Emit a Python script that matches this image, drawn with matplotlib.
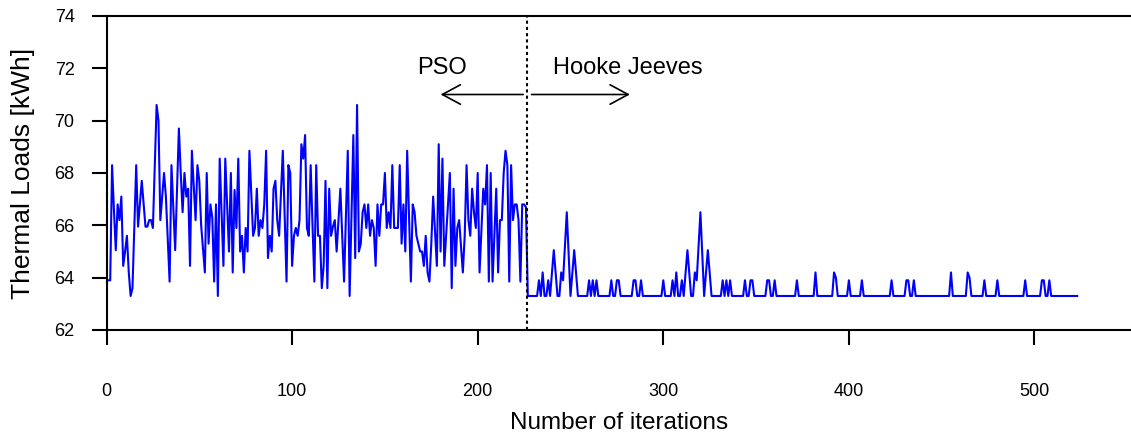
import matplotlib
matplotlib.use('Agg')
import matplotlib.pyplot as plt

plt.rcParams['font.family'] = ['Liberation Sans', 'DejaVu Sans']

# PSO phase: thermal load per iteration, iterations 0..226
pso_loads = [
    63.9, 63.9, 63.9, 68.3, 66.6, 65.05, 66.8, 66.2, 67.1, 64.45,
    65.0, 65.6, 64.2, 63.3, 63.6, 65.9, 68.3, 65.95, 66.8, 67.7,
    66.8, 65.95, 65.95, 66.2, 66.2, 65.9, 68.3, 70.6, 70.0, 66.2,
    67.1, 68.0, 67.1, 65.5, 63.85, 68.3, 66.7, 65.05, 67.4, 69.7,
    68.0, 66.5, 68.0, 67.1, 67.4, 64.45, 68.85, 67.5, 66.2, 68.3,
    67.7, 66.0, 65.1, 64.2, 68.0, 65.3, 66.8, 66.3, 63.85, 66.8,
    63.3, 68.55, 66.5, 64.45, 68.55, 66.8, 65.0, 68.0, 64.2, 67.35,
    65.9, 68.55, 65.0, 65.6, 64.2, 65.9, 65.0, 68.85, 67.2, 65.6,
    65.9, 67.4, 65.6, 66.2, 65.9, 66.8, 68.85, 64.75, 65.6, 65.0,
    67.4, 67.7, 66.2, 65.6, 67.2, 68.85, 66.4, 63.85, 68.3, 68.0,
    64.45, 65.6, 65.9, 65.6, 66.2, 69.1, 68.55, 69.45, 65.9, 65.6,
    68.3, 66.0, 63.85, 68.3, 65.6, 65.6, 63.6, 64.45, 67.7, 63.6,
    67.4, 65.6, 65.95, 66.2, 65.0, 66.2, 67.4, 65.6, 63.85, 66.3,
    68.85, 63.3, 66.4, 69.45, 64.75, 70.6, 65.0, 65.3, 66.5, 66.8,
    65.9, 66.8, 65.6, 66.2, 65.9, 64.45, 66.8, 65.6, 66.8, 66.8,
    68.0, 65.9, 66.5, 65.9, 68.3, 65.9, 65.9, 65.9, 68.3, 65.3,
    66.8, 65.0, 68.85, 66.4, 63.85, 66.8, 66.5, 65.6, 65.3, 65.0,
    65.0, 64.45, 65.6, 64.2, 63.85, 65.3, 67.1, 65.8, 64.45, 69.1,
    65.0, 68.55, 64.45, 65.6, 66.8, 68.0, 63.6, 67.4, 64.45, 65.9,
    66.2, 65.2, 64.2, 65.6, 68.3, 66.2, 65.6, 67.4, 66.5, 65.9,
    68.0, 64.2, 65.8, 67.4, 66.8, 68.3, 63.85, 68.0, 63.85, 65.6,
    67.4, 64.2, 66.2, 66.2, 68.0, 68.85, 68.3, 63.85, 68.3, 66.2,
    66.8, 66.8, 66.2, 63.85, 66.8, 66.8, 66.7,
]

# Hooke Jeeves phase: iterations 227..523, flat at the best value except where noted
hj_first, hj_last = 227, 523
hj_base = 63.3
hj_peaks = {
    233: 63.9, 235: 64.2, 238: 63.9, 240: 64.2, 241: 65.05, 242: 64.2,
    245: 64.2, 246: 63.9, 247: 65.2, 248: 66.5, 249: 64.9, 251: 64.2,
    252: 65.05, 253: 64.2, 260: 63.9, 262: 63.9, 264: 63.9, 272: 63.9,
    275: 63.9, 276: 63.9, 284: 63.9, 285: 63.9, 288: 63.9, 300: 63.9,
    305: 63.9, 307: 64.2, 310: 63.9, 312: 64.2, 313: 65.05, 314: 64.2,
    317: 64.2, 318: 63.9, 319: 65.2, 320: 66.5, 321: 64.9, 323: 64.2,
    324: 65.05, 325: 64.2, 332: 63.9, 334: 63.9, 336: 63.9, 344: 63.9,
    347: 63.9, 348: 63.9, 356: 63.9, 357: 63.9, 360: 63.9, 372: 63.9,
    382: 64.2, 392: 64.2, 393: 64.0, 400: 63.9, 407: 63.9, 423: 63.9,
    431: 63.9, 432: 63.9, 435: 63.9, 455: 64.2, 464: 64.2, 465: 64.0,
    473: 63.9, 480: 63.9, 495: 63.9, 504: 63.9, 505: 63.9, 508: 63.9,
}
switch_iter = 226.5

iters = list(range(len(pso_loads))) + list(range(hj_first, hj_last + 1))
loads = pso_loads + [hj_peaks.get(i, hj_base) for i in range(hj_first, hj_last + 1)]

fig = plt.figure(figsize=(11.31, 4.36), dpi=100)
ax = fig.add_axes([106.5 / 1131, 106 / 436, 1 - 106.5 / 1131, 314 / 436])

ax.plot(iters, loads, color='#0000ff', lw=1.5)
ax.axvline(switch_iter, color='black', lw=1.5, linestyle=(0, (1.5, 1.5)))

# phase annotations
arrow = dict(arrowstyle='->, head_length=0.65, head_width=0.35', color='black',
             lw=1.2, mutation_scale=20, shrinkA=0, shrinkB=0)
ax.annotate('', xy=(180, 71), xytext=(224.5, 71), arrowprops=arrow)
ax.annotate('', xy=(282, 71), xytext=(229, 71), arrowprops=arrow)
ax.text(181, 72, 'PSO', fontsize=17, ha='center', va='center')
ax.text(281, 72, 'Hooke Jeeves', fontsize=17, ha='center', va='center')

ax.set_xlim(0, 552)
ax.set_ylim(62, 74)
ax.set_xticks([0, 100, 200, 300, 400, 500])
ax.set_yticks([62, 64, 66, 68, 70, 72, 74])

ax.spines['right'].set_visible(False)
for s in ['left', 'bottom', 'top']:
    ax.spines[s].set_linewidth(1.5)
ax.tick_params(axis='both', direction='out', length=11, width=1.5, labelsize=13)
ax.tick_params(axis='x', pad=27)
ax.tick_params(axis='y', pad=12)

ax.set_xlabel('Number of iterations', fontsize=17.5)
ax.set_ylabel('Thermal Loads [kWh]', fontsize=19)
ax.xaxis.set_label_coords(0.5, -0.26)
ax.yaxis.set_label_coords(-0.07, 0.5)

fig.savefig('out.png', dpi=100)
